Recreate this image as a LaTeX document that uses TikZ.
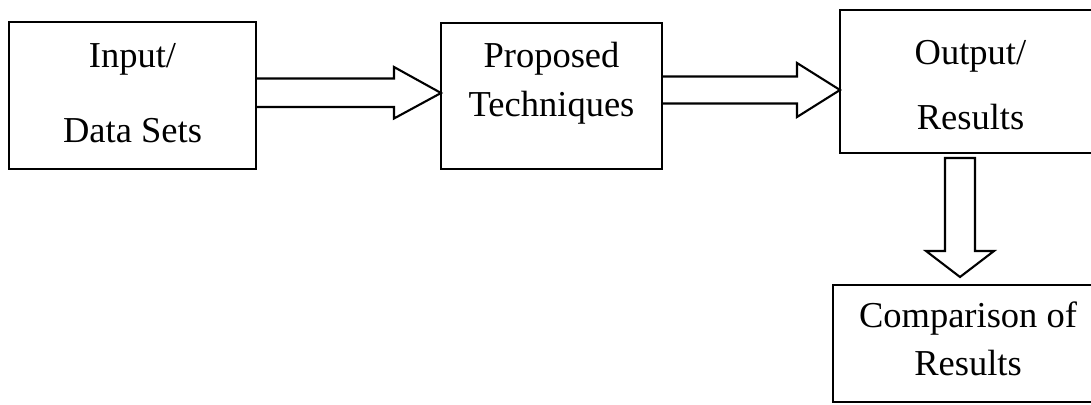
\documentclass[tikz,border=0pt]{standalone}
\usepackage{fontspec}
\setmainfont{Liberation Serif}
\usetikzlibrary{calc}

\begin{document}
\begin{tikzpicture}[x=1pt,y=1pt]
\tikzstyle{every node}+=[inner sep=0pt, outer sep=0pt]
\tikzstyle{box}=[draw, black, line width=2.1pt, align=center, text depth=0pt]
\tikzstyle{hollow}=[black, line width=2.1pt, line join=miter]
\clip (0,0) rectangle (1091,404);
% boxes
\node [box, minimum width=247, minimum height=147, text height=95,
  font=\fontsize{36.5}{75}\selectfont] (in) at (132.5,308.5) {Input/\\Data Sets};
\node [box, minimum width=221, minimum height=146, text height=42,
  font=\fontsize{36.5}{49}\selectfont] (prop) at (551.5,308) {Proposed\\Techniques};
\node [box, minimum width=261, minimum height=143, text height=97,
  font=\fontsize{36.5}{65}\selectfont] (out) at (970.5,322.5) {Output/\\Results};
\node [box, minimum width=270, minimum height=117, text height=63,
  font=\fontsize{36.5}{47}\selectfont] (cmp) at (968,60.5) {Comparison of\\Results};
% block arrows
\draw [hollow] ([yshift=3pt]in.east) ++(0,14) -- ++(138,0) -- ++(0,11.5)
  -- ([yshift=3pt]prop.west) -- ++(-47,-25.5) -- ++(0,11.5) -- ++(-138,0);
\draw [hollow] ([yshift=6pt]prop.east) ++(0,13.5) -- ++(135,0) -- ++(0,13.5)
  -- ([yshift=-8.5pt]out.west) -- ++(-43,-27) -- ++(0,13.5) -- ++(-135,0);
\draw [hollow] ([xshift=-10.5pt,yshift=-5pt]out.south) ++(-15,0) -- ++(0,-93)
  -- ++(-19,0) -- ([xshift=-8pt,yshift=8pt]cmp.north) -- ++(34,26)
  -- ++(-19,0) -- ++(0,93) -- cycle;
\end{tikzpicture}
\end{document}
